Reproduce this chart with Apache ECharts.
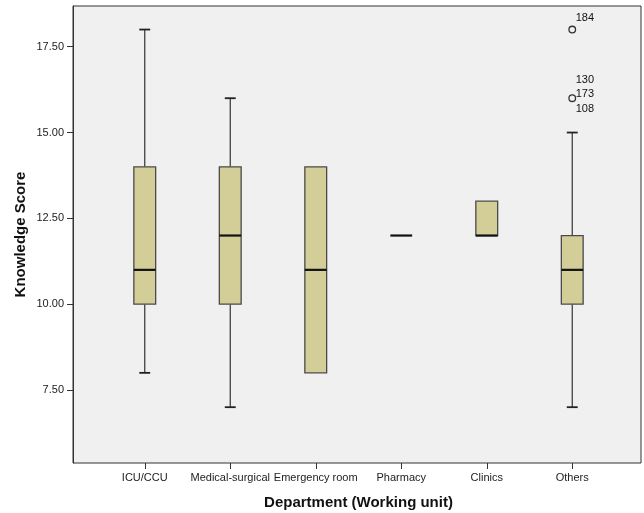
<!DOCTYPE html>
<html>
<head>
<meta charset="utf-8">
<script src="https://cdn.jsdelivr.net/npm/echarts@6/dist/echarts.min.js"></script>
<style>html,body{margin:0;padding:0;background:#fff;}#c{width:644px;height:513px;}</style>
</head>
<body>
<div id="c"></div>
<script>
// ---- data ----
const categories = ['ICU/CCU', 'Medical-surgical', 'Emergency room', 'Pharmacy', 'Clinics', 'Others'];
const whiskerLow = [8, 7, 8, 12, 12, 7];
const q1Values   = [10, 10, 8, 12, 12, 10];
const medians    = [11, 12, 11, 12, 12, 11];
const q3Values   = [14, 14, 14, 12, 13, 12];
const whiskerHigh= [18, 16, 14, 12, 13, 15];
const outlierCategory = [5, 5];
const outlierValues   = [18, 16];
const outlierIds      = [['184'], ['130', '173', '108']];
const yTicks = [7.5, 10, 12.5, 15, 17.5];
const yMin = 5.374, yMax = 18.686;

const boxData = categories.map((c, i) => [i, whiskerLow[i], q1Values[i], medians[i], q3Values[i], whiskerHigh[i]]);
const outlierData = outlierValues.map((v, i) => [outlierCategory[i], v]);

const FONT = 'Arial, "Liberation Sans", sans-serif';

function renderBox(params, api) {
  const idx = api.value(0);
  const lo = api.coord([idx, api.value(1)]);
  const q1 = api.coord([idx, api.value(2)]);
  const med = api.coord([idx, api.value(3)]);
  const q3 = api.coord([idx, api.value(4)]);
  const hi = api.coord([idx, api.value(5)]);
  const band = api.size([1, 0])[0];
  const bw = band * 0.255;
  const cw = bw / 2;
  const x = med[0];
  const wStyle = { stroke: '#333', lineWidth: 1.2 };
  const children = [];
  if (hi[1] < q3[1]) {
    children.push({ type: 'line', shape: { x1: x, y1: hi[1], x2: x, y2: q3[1] }, style: wStyle });
    children.push({ type: 'line', shape: { x1: x - cw / 2, y1: hi[1], x2: x + cw / 2, y2: hi[1] }, style: { stroke: '#222', lineWidth: 1.8 } });
  }
  if (lo[1] > q1[1]) {
    children.push({ type: 'line', shape: { x1: x, y1: q1[1], x2: x, y2: lo[1] }, style: wStyle });
    children.push({ type: 'line', shape: { x1: x - cw / 2, y1: lo[1], x2: x + cw / 2, y2: lo[1] }, style: { stroke: '#222', lineWidth: 1.8 } });
  }
  if (q1[1] - q3[1] > 0.5) {
    children.push({ type: 'rect', shape: { x: x - bw / 2, y: q3[1], width: bw, height: q1[1] - q3[1] },
      style: { fill: '#d3ce97', stroke: '#4a4a4a', lineWidth: 1.3 } });
  }
  children.push({ type: 'line', shape: { x1: x - bw / 2, y1: med[1], x2: x + bw / 2, y2: med[1] }, style: { stroke: '#111', lineWidth: 2.2 } });
  return { type: 'group', children: children };
}

function renderOutlier(params, api) {
  const p = api.coord([api.value(0), api.value(1)]);
  const ids = outlierIds[params.dataIndex];
  const n = ids.length;
  return {
    type: 'group',
    children: [
      { type: 'circle', shape: { cx: p[0], cy: p[1], r: 3.3 }, style: { fill: 'none', stroke: '#333', lineWidth: 1.3 } },
      { type: 'text', x: p[0] + 3.5, y: p[1] + (n === 1 ? -12 : -4),
        style: { text: ids.join('\n'), fill: '#111', font: '11px ' + FONT, verticalAlign: 'middle', align: 'left', lineHeight: 14.5 } }
    ]
  };
}

const chart = echarts.init(document.getElementById('c'), null, { renderer: 'canvas' });
chart.setOption({
  animation: false,
  backgroundColor: '#ffffff',
  grid: [
    { left: 73, right: 3, top: 6, bottom: 50, show: true, backgroundColor: '#f0f0f0', borderColor: '#333', borderWidth: 1, z: 0, containLabel: false, outerBoundsMode: 'none' },
    { left: 102, right: 29, top: 6, bottom: 50, show: false, containLabel: false, outerBoundsMode: 'none' }
  ],
  xAxis: [
    { gridIndex: 0, type: 'value', show: false, min: 0, max: 1 },
    { gridIndex: 1, type: 'category', data: categories, boundaryGap: true,
      axisLine: { show: false },
      axisTick: { show: true, alignWithLabel: true, length: 6, lineStyle: { color: '#333' } },
      axisLabel: { interval: 0, margin: 9, color: '#222', fontSize: 11, fontFamily: FONT },
      name: 'Department (Working unit)', nameLocation: 'middle', nameGap: 32, nameMoveOverlap: false,
      nameTextStyle: { fontWeight: 'bold', fontSize: 15, color: '#111', fontFamily: FONT },
      splitLine: { show: false } }
  ],
  yAxis: [
    { gridIndex: 0, type: 'value', show: false, min: 0, max: 1 },
    { gridIndex: 1, type: 'value', min: yMin, max: yMax, offset: 29,
      axisLine: { show: true, lineStyle: { color: '#333' } },
      axisTick: { show: true, length: 6, customValues: yTicks, lineStyle: { color: '#333' } },
      axisLabel: { customValues: yTicks, margin: 9, color: '#222', fontSize: 11, fontFamily: FONT,
        formatter: v => v.toFixed(2) },
      splitLine: { show: false },
      name: 'Knowledge Score', nameLocation: 'middle', nameGap: 45, nameMoveOverlap: false,
      nameTextStyle: { fontWeight: 'bold', fontSize: 15, color: '#111', fontFamily: FONT } }
  ],
  series: [
    { type: 'custom', xAxisIndex: 1, yAxisIndex: 1, renderItem: renderBox, data: boxData,
      encode: { x: 0, y: [1, 2, 3, 4, 5] }, z: 5 },
    { type: 'custom', xAxisIndex: 1, yAxisIndex: 1, renderItem: renderOutlier, data: outlierData,
      encode: { x: 0, y: 1 }, z: 6 }
  ]
});
</script>
</body>
</html>
